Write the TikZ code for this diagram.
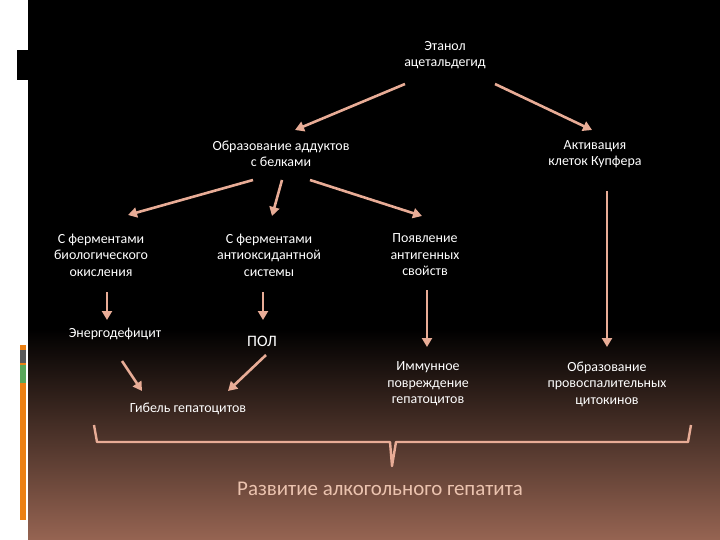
\documentclass[tikz,border=0pt]{standalone}
\usepackage{fontspec}
\setmainfont{Carlito}
\usetikzlibrary{arrows.meta}
\definecolor{arr}{RGB}{232,172,150}
\definecolor{brn}{RGB}{150,100,82}
\definecolor{ttl}{RGB}{235,195,175}
\begin{document}
\begin{tikzpicture}[x=1bp,y=-1bp,
  txt/.style={text=white,align=center,font=\fontsize{14}{16.5}\selectfont,inner sep=0},
  ar/.style={draw=arr,line width=2.6bp,-{Triangle[length=9bp,width=10bp]}}]
\useasboundingbox (0,0) rectangle (720,540);
\fill[white] (0,0) rectangle (720,540);
\fill[black] (28,0) rectangle (720,330);
\shade[top color=black,bottom color=brn] (28,329) rectangle (720,540);
\fill[black] (17,50) rectangle (28,80);
\fill[orange!70!brown] (20,345) rectangle (26,520);
\fill[gray!70!black] (20,350) rectangle (26,363);
\fill[green!30!gray] (20,365) rectangle (26,383);
\node[txt] (eth) at (445,55) {Этанол\\ацетальдегид};
\node[txt] (add) at (281,154) {Образование аддуктов\\с белками};
\node[txt] (kup) at (595,154) {Активация\\клеток Купфера};
\node[txt] (bio) at (101,255) {С ферментами\\биологического\\окисления};
\node[txt] (ant) at (269,255) {С ферментами\\антиоксидантной\\системы};
\node[txt] (pov) at (425,255) {Появление\\антигенных\\свойств};
\node[txt] (en) at (115,334) {Энергодефицит};
\node[txt,font=\fontsize{16}{18}\selectfont] (pol) at (262,341) {ПОЛ};
\node[txt] (imm) at (428,384) {Иммунное\\повреждение\\гепатоцитов};
\node[txt] (cyt) at (607,384) {Образование\\провоспалительных\\цитокинов};
\node[txt] (gib) at (188,409) {Гибель гепатоцитов};
\node[txt,text=ttl,font=\fontsize{21}{24}\selectfont] (res) at (380,489) {Развитие алкогольного гепатита};
\coordinate (e1) at (405,84); \coordinate (e2) at (495,84);
\draw[ar] (e1) -- (295,130);
\draw[ar] (e2) -- (592,130);
\coordinate (a1) at (253,180); \coordinate (a2) at (282,180); \coordinate (a3) at (310,180);
\draw[ar] (a1) -- (128,215);
\draw[ar] (a2) -- (272,216);
\draw[ar] (a3) -- (422,216);
\draw[ar] (107,292) -- (107,320);
\draw[ar] (263,292) -- (263,320);
\draw[ar] (427,290) -- (427,347);
\draw[ar] (607,191) -- (607,347);
\draw[ar] (122,361) -- (142,391);
\draw[ar] (266,355) -- (228,391);
\draw[draw=arr,line width=2.4bp,line join=round] (94,425) -- (97,442) -- (390,442) -- (392,466) -- (396,442) -- (688,442) -- (691,425);
\end{tikzpicture}
\end{document}
